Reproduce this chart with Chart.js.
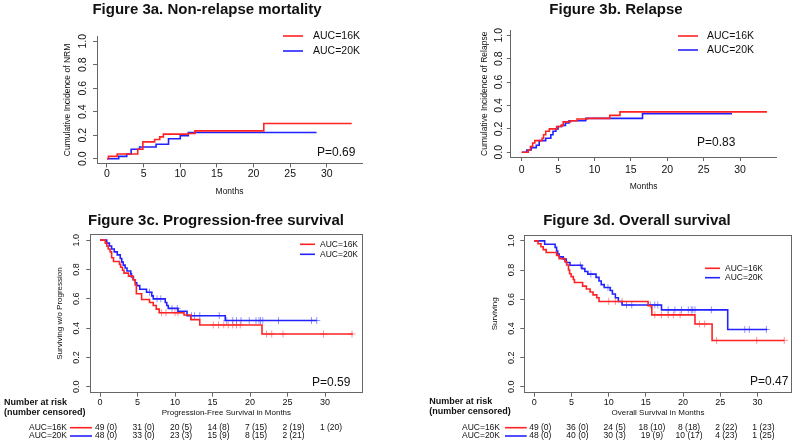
<!DOCTYPE html>
<html>
<head>
<meta charset="utf-8">
<script src="https://cdn.jsdelivr.net/npm/chart.js@4.4.1/dist/chart.umd.min.js"></script>
<style>
  html, body { margin: 0; padding: 0; background: #fff; }
  body { width: 800px; height: 443px; position: relative; overflow: hidden; }
  canvas { position: absolute; }
</style>
</head>
<body>
<canvas id="cA" width="400" height="200" style="left:0;top:0"></canvas>
<canvas id="cB" width="400" height="200" style="left:400px;top:0"></canvas>
<canvas id="cC" width="400" height="243" style="left:0;top:200px"></canvas>
<canvas id="cD" width="400" height="243" style="left:400px;top:200px"></canvas>
<script>
const months = [0, 5, 10, 15, 20, 25, 30];
const probTicks = [0, 0.2, 0.4, 0.6, 0.8, 1.0];
const groups = ["AUC=16K", "AUC=20K"];
const pValues = ["P=0.69", "P=0.83", "P=0.59", "P=0.47"];

// 3a non-relapse mortality (cumulative incidence)
const nrmT16 = [0, 0.2, 1.4, 4.2, 4.9, 6.5, 7.2, 7.7, 11.1, 12.0, 21.4, 33.4];
const nrmV16 = [0, 0.02, 0.04, 0.08, 0.143, 0.163, 0.186, 0.209, 0.215, 0.237, 0.30, 0.30];
const nrmT20 = [0, 1.6, 2.7, 3.3, 4.45, 6.7, 8.4, 10.0, 11.1, 28.6];
const nrmV20 = [0, 0.02, 0.04, 0.08, 0.10, 0.123, 0.17, 0.195, 0.223, 0.223];

// 3b relapse (cumulative incidence)
const relT16 = [0, 0.9, 1.2, 1.5, 1.8, 2.8, 3.0, 3.3, 3.8, 4.8, 5.4, 5.7, 6.7, 7.6, 9.0, 12.1, 13.5, 33.7];
const relV16 = [0, 0.02, 0.05, 0.08, 0.10, 0.12, 0.15, 0.18, 0.20, 0.22, 0.23, 0.26, 0.27, 0.285, 0.29, 0.315, 0.345, 0.345];
const relT20 = [0, 0.7, 1.3, 2.0, 2.4, 3.3, 4.0, 4.3, 4.7, 5.0, 5.5, 6.0, 6.5, 8.8, 16.6, 28.9];
const relV20 = [0, 0.02, 0.04, 0.06, 0.10, 0.12, 0.15, 0.18, 0.20, 0.22, 0.23, 0.25, 0.27, 0.29, 0.33, 0.33];

// 3c progression-free survival
const pfsT16 = [0, 0.7, 0.9, 1.1, 1.35, 1.55, 1.8, 2.6, 2.75, 3.0, 3.2, 3.8, 4.4, 4.7, 4.85, 5.55, 6.6, 7.1, 7.5, 7.9, 11.2, 12.1, 13.3, 21.6, 33.7];
const pfsV16 = [1, 0.98, 0.96, 0.94, 0.92, 0.88, 0.855, 0.835, 0.815, 0.795, 0.775, 0.755, 0.73, 0.695, 0.635, 0.595, 0.575, 0.555, 0.53, 0.505, 0.49, 0.458, 0.422, 0.36, 0.36];
const pfsCens16 = [8.2, 8.8, 10.0, 10.4, 15.1, 15.8, 16.5, 17.1, 17.7, 18.2, 18.7, 22.2, 22.9, 24.4, 29.8, 33.6];
const pfsT20 = [0, 0.9, 1.25, 1.55, 1.9, 2.3, 2.7, 2.9, 3.1, 3.35, 3.6, 4.1, 4.2, 4.45, 4.7, 4.9, 5.3, 6.2, 6.9, 7.1, 8.7, 8.9, 9.1, 10.4, 11.6, 16.7, 28.9];
const pfsV20 = [1, 0.98, 0.96, 0.94, 0.92, 0.9, 0.875, 0.85, 0.83, 0.81, 0.79, 0.77, 0.75, 0.73, 0.71, 0.69, 0.665, 0.645, 0.62, 0.60, 0.575, 0.555, 0.535, 0.515, 0.485, 0.452, 0.452];
const pfsCens20 = [6.6, 7.6, 8.1, 9.6, 10.3, 12.2, 12.6, 13.3, 15.9, 16.9, 17.7, 18.2, 18.8, 19.9, 20.8, 21.2, 21.4, 21.7, 23.8, 28.2, 28.9];
const pfsRisk16 = ["49 (0)", "31 (0)", "20 (5)", "14 (8)", "7 (15)", "2 (19)", "1 (20)"];
const pfsRisk20 = ["48 (0)", "33 (0)", "23 (3)", "15 (9)", "8 (15)", "2 (21)"];

// 3d overall survival
const osT16 = [0, 0.5, 0.9, 1.2, 1.6, 3.0, 3.35, 4.1, 4.35, 4.6, 4.75, 4.95, 5.25, 5.4, 6.5, 7.0, 7.5, 7.9, 8.4, 8.7, 15.3, 15.8, 21.6, 23.9, 33.6];
const osV16 = [1, 0.98, 0.96, 0.94, 0.92, 0.90, 0.878, 0.857, 0.835, 0.80, 0.775, 0.755, 0.735, 0.715, 0.69, 0.67, 0.65, 0.63, 0.61, 0.585, 0.555, 0.493, 0.431, 0.318, 0.318];
const osCens16 = [10.0, 10.9, 11.8, 16.2, 17.1, 18.0, 18.7, 19.6, 22.2, 22.9, 24.5, 29.9, 33.6];
const osT20 = [0, 1.4, 2.8, 3.0, 3.15, 3.35, 3.9, 4.3, 4.8, 6.4, 6.8, 7.2, 8.3, 8.7, 9.0, 9.4, 10.2, 10.5, 10.9, 11.3, 11.8, 17.1, 26.0, 31.3];
const osV20 = [1, 0.977, 0.955, 0.93, 0.91, 0.89, 0.875, 0.852, 0.833, 0.81, 0.79, 0.772, 0.75, 0.725, 0.70, 0.68, 0.66, 0.636, 0.61, 0.585, 0.561, 0.527, 0.393, 0.393];
const osCens20 = [6.2, 7.6, 9.9, 12.4, 13.1, 15.6, 16.2, 16.6, 18.0, 18.9, 19.8, 20.7, 21.1, 21.3, 21.6, 23.8, 28.3, 28.9, 31.2];
const osRisk16 = ["49 (0)", "36 (0)", "24 (5)", "18 (10)", "8 (18)", "2 (22)", "1 (23)"];
const osRisk20 = ["48 (0)", "40 (0)", "30 (3)", "19 (9)", "10 (17)", "4 (23)", "1 (25)"];

const FONT = '"Liberation Sans", Arial, Helvetica, sans-serif';
const RED = "#ff2222";
const BLUE = "#2222ff";
const RED_C = "rgba(255,60,60,0.55)";
const BLUE_C = "rgba(60,60,255,0.55)";
const AXIS = "#666";
const INK = "#111";

Chart.defaults.font.family = FONT;

function levelAt(ts, vs, t) {
  let v = vs[0];
  for (let i = 0; i < ts.length; i++) if (ts[i] <= t) v = vs[i];
  return v;
}

function curve(label, ts, vs, color) {
  return {
    label, data: ts.map((t, i) => ({ x: t, y: vs[i] })),
    borderColor: color, borderWidth: 1.6, pointRadius: 0,
    stepped: true, fill: false, tension: 0
  };
}

function censors(ts, vs, cens, color) {
  return {
    label: "", data: cens.map(t => ({ x: t, y: levelAt(ts, vs, t) })),
    showLine: false, pointStyle: "cross", pointRadius: 3.5,
    borderColor: color, borderWidth: 1, backgroundColor: color
  };
}

// text, legend, P value, box and risk table drawn on top of the library's scales
const decor = {
  id: "decor",
  afterDraw(chart, args, o) {
    const ctx = chart.ctx, a = chart.chartArea;
    const xs = chart.scales.x, ys = chart.scales.y;
    ctx.save();
    ctx.fillStyle = INK;

    if (o.box) {
      ctx.strokeStyle = AXIS;
      ctx.lineWidth = 1;
      ctx.strokeRect(Math.round(a.left) + 0.5, Math.round(a.top) + 0.5,
        Math.round(a.right) - Math.round(a.left) - 1, Math.round(a.bottom) - Math.round(a.top) - 1);
    }

    ctx.font = "bold 15px " + FONT;
    ctx.textAlign = "center";
    ctx.textBaseline = "alphabetic";
    ctx.fillText(o.title, o.titleX, o.titleY);

    // y tick labels, parallel to the axis
    ctx.font = o.tickFont + "px " + FONT;
    ctx.textBaseline = "middle";
    ys.ticks.forEach(t => {
      ctx.save();
      ctx.translate(o.yLabX, ys.getPixelForValue(t.value));
      ctx.rotate(-Math.PI / 2);
      ctx.fillText(t.value.toFixed(1), 0, 0);
      ctx.restore();
    });

    // axis titles
    ctx.font = o.axisFont + "px " + FONT;
    ctx.fillText(o.xTitle, (a.left + a.right) / 2, o.xTitleY);
    ctx.save();
    ctx.translate(o.yTitleX, (a.top + a.bottom) / 2);
    ctx.rotate(-Math.PI / 2);
    ctx.fillText(o.yTitle, 0, 0);
    ctx.restore();

    // legend
    const sets = chart.data.datasets.filter(d => d.label);
    ctx.font = o.legFont + "px " + FONT;
    ctx.textAlign = "left";
    sets.forEach((d, i) => {
      ctx.strokeStyle = d.borderColor;
      ctx.lineWidth = 1.6;
      ctx.beginPath();
      ctx.moveTo(o.legX1, o.legY[i]);
      ctx.lineTo(o.legX2, o.legY[i]);
      ctx.stroke();
      ctx.fillText(d.label, o.legTx, o.legY[i]);
    });

    ctx.font = o.pFont + "px " + FONT;
    ctx.fillText(o.p, o.pX, o.pY);

    if (o.risk) {
      ctx.font = "bold 9px " + FONT;
      ctx.fillText("Number at risk", o.headX, o.headY[0]);
      ctx.fillText("(number censored)", o.headX, o.headY[1]);
      ctx.font = "8.5px " + FONT;
      o.risk.forEach((row, i) => {
        const y = o.rowY[i];
        ctx.textAlign = "right";
        ctx.fillStyle = INK;
        ctx.fillText(sets[i].label, o.rowLabR, y);
        ctx.strokeStyle = sets[i].borderColor;
        ctx.lineWidth = 1.6;
        ctx.beginPath();
        ctx.moveTo(o.rowLine[0], y);
        ctx.lineTo(o.rowLine[1], y);
        ctx.stroke();
        ctx.textAlign = "center";
        row.forEach((txt, j) => ctx.fillText(txt, xs.getPixelForValue(months[j]) + 6, y));
      });
    }
    ctx.restore();
  }
};

function makePanel(id, w, h, area, xMin, xMax, xPad, datasets, o) {
  const Wy = 20, Hx = 30;
  return new Chart(document.getElementById(id), {
    type: "line",
    data: { datasets },
    options: {
      responsive: false,
      animation: false,
      devicePixelRatio: 1,
      events: [],
      layout: { padding: { left: area.l - Wy, right: w - area.r, top: area.t, bottom: h - area.b - Hx } },
      plugins: { legend: { display: false }, tooltip: { enabled: false }, decor: o },
      scales: {
        x: {
          type: "linear", min: xMin, max: xMax,
          afterBuildTicks: s => { s.ticks = months.map(v => ({ value: v })); },
          afterFit: s => { s.height = Hx; },
          grid: { display: true, drawOnChartArea: false, drawTicks: true, tickLength: 4, color: AXIS },
          border: { display: true, color: AXIS, width: 1 },
          ticks: { font: { size: o.tickFont }, color: INK, padding: xPad, maxRotation: 0, autoSkip: false }
        },
        y: {
          type: "linear", min: -0.04, max: 1.04,
          afterBuildTicks: s => { s.ticks = probTicks.map(v => ({ value: v })); },
          afterFit: s => { s.width = Wy; },
          grid: { display: true, drawOnChartArea: false, drawTicks: true, tickLength: 4, color: AXIS },
          border: { display: true, color: AXIS, width: 1 },
          ticks: { display: false }
        }
      }
    },
    plugins: [decor]
  });
}

makePanel("cA", 400, 200, { l: 97, r: 362, t: 36.5, b: 163.4 }, -1.36, 34.8, 0.5,
  [curve(groups[0], nrmT16, nrmV16, RED), curve(groups[1], nrmT20, nrmV20, BLUE)],
  { title: "Figure 3a. Non-relapse mortality", titleX: 207, titleY: 14,
    tickFont: 10.5, yLabX: 83, axisFont: 8.5, xTitle: "Months", xTitleY: 192,
    yTitle: "Cumulative Incidence of NRM", yTitleX: 68,
    legFont: 10.5, legX1: 283, legX2: 303, legTx: 313, legY: [36, 51],
    p: pValues[0], pFont: 12, pX: 317, pY: 153, box: false });

makePanel("cB", 400, 200, { l: 110.8, r: 376.4, t: 30.5, b: 157 }, -1.5, 35, 2.5,
  [curve(groups[0], relT16, relV16, RED), curve(groups[1], relT20, relV20, BLUE)],
  { title: "Figure 3b. Relapse", titleX: 216, titleY: 14,
    tickFont: 10.5, yLabX: 99, axisFont: 8.5, xTitle: "Months", xTitleY: 187,
    yTitle: "Cumulative Incidence of Relapse", yTitleX: 85,
    legFont: 10.5, legX1: 278, legX2: 298, legTx: 307, legY: [36, 50],
    p: pValues[1], pFont: 12, pX: 297, pY: 143, box: false });

makePanel("cC", 400, 243, { l: 90.25, r: 362.5, t: 34.3, b: 192.7 }, -1.3, 35, 0.5,
  [curve(groups[0], pfsT16, pfsV16, RED), curve(groups[1], pfsT20, pfsV20, BLUE),
   censors(pfsT16, pfsV16, pfsCens16, RED_C), censors(pfsT20, pfsV20, pfsCens20, BLUE_C)],
  { title: "Figure 3c. Progression-free survival", titleX: 216, titleY: 25,
    tickFont: 9, yLabX: 77, axisFont: 8, xTitle: "Progression-Free Survival in Months", xTitleY: 212.3,
    yTitle: "Surviving w/o Progression", yTitleX: 60,
    legFont: 8.5, legX1: 300, legX2: 315, legTx: 320, legY: [44.3, 54.3],
    p: pValues[2], pFont: 12, pX: 312, pY: 182.7, box: true,
    risk: [pfsRisk16, pfsRisk20], headX: 4, headY: [202.7, 212.3], rowY: [227.7, 236],
    rowLabR: 67, rowLine: [70, 92] });

makePanel("cD", 400, 243, { l: 124.3, r: 391.7, t: 35, b: 192.7 }, -1.34, 34.6, 0.5,
  [curve(groups[0], osT16, osV16, RED), curve(groups[1], osT20, osV20, BLUE),
   censors(osT16, osV16, osCens16, RED_C), censors(osT20, osV20, osCens20, BLUE_C)],
  { title: "Figure 3d. Overall survival", titleX: 237, titleY: 25,
    tickFont: 9, yLabX: 111.7, axisFont: 8, xTitle: "Overall Survival in Months", xTitleY: 212.3,
    yTitle: "Surviving", yTitleX: 95,
    legFont: 8.5, legX1: 305, legX2: 320, legTx: 325, legY: [68.3, 77.7],
    p: pValues[3], pFont: 12, pX: 350, pY: 181.7, box: true,
    risk: [osRisk16, osRisk20], headX: 29.3, headY: [201.7, 211.7], rowY: [227.7, 236],
    rowLabR: 100, rowLine: [105, 126.7] });
</script>
</body>
</html>
